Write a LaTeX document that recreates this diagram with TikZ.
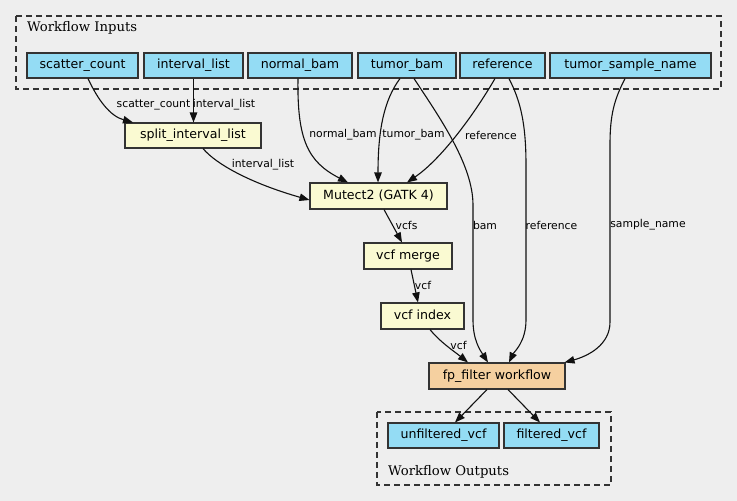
\documentclass[tikz,border=0pt]{standalone}
\usepackage{fontspec}
\usetikzlibrary{arrows.meta}
\newfontfamily\djsans{DejaVu Sans}
\newfontfamily\djserif{DejaVu Serif}
\definecolor{bgc}{HTML}{EEEEEE}
\definecolor{inblue}{HTML}{94DCF4}
\definecolor{stepyel}{HTML}{FAFAD2}
\definecolor{wforange}{HTML}{F5D0A0}
\definecolor{edgec}{HTML}{111111}
\definecolor{clus}{HTML}{333333}
\tikzset{
  box/.style={draw=clus, line width=1.1pt, rectangle, inner sep=0pt,
    minimum height=25pt, text height=9.3pt, text depth=2.7pt,
    font=\djsans\fontsize{12.6}{14}\selectfont, text=black},
  inbox/.style={box, fill=inblue},
  stepbox/.style={box, fill=stepyel},
  wfbox/.style={box, fill=wforange},
  cluster/.style={draw=clus, line width=1.1pt, dash pattern=on 6pt off 4pt},
  clab/.style={font=\djserif\fontsize{13.2}{15}\selectfont, text=black, anchor=west, inner sep=0pt},
  elab/.style={font=\djsans\fontsize{10.8}{12}\selectfont, text=black, inner sep=0pt},
  edge/.style={draw=edgec, line width=1.1pt, -{Triangle[length=10pt,width=7.5pt]}}
}
\begin{document}
\begin{tikzpicture}[x=1pt,y=-1pt]
\useasboundingbox (0,0) rectangle (737,501);
\fill[bgc] (0,0) rectangle (737,501);
% clusters
\draw[cluster] (16,16) rectangle (721,89);
\node[clab] (inlab) at (27,27.5) {Workflow Inputs};
\draw[cluster] (377,412) rectangle (611,485);
\node[clab] (outlab) at (388,471.5) {Workflow Outputs};
% input nodes
\node[inbox, minimum width=111pt] (sc) at (82.5,65.5) {scatter\_count};
\node[inbox, minimum width=99pt] (il) at (193.5,65.5) {interval\_list};
\node[inbox, minimum width=104pt] (nb) at (300,65.5) {normal\_bam};
\node[inbox, minimum width=98pt] (tb) at (407,65.5) {tumor\_bam};
\node[inbox, minimum width=85pt] (ref) at (502.5,65.5) {reference};
\node[inbox, minimum width=161pt] (tsn) at (630.5,65.5) {tumor\_sample\_name};
% steps
\node[stepbox, minimum width=136pt] (split) at (193,135.5) {split\_interval\_list};
\node[stepbox, minimum width=137pt, minimum height=26pt] (mut) at (378.5,196) {Mutect2 (GATK 4)};
\node[stepbox, minimum width=88pt, minimum height=26pt] (merge) at (408,256) {vcf merge};
\node[stepbox, minimum width=83pt, minimum height=26pt] (index) at (422.5,316) {vcf index};
\node[wfbox, minimum width=136pt, minimum height=26pt] (fp) at (497,376) {fp\_filter workflow};
% outputs
\node[inbox, minimum width=111pt] (unf) at (443.5,435.5) {unfiltered\_vcf};
\node[inbox, minimum width=95pt] (filt) at (551.5,435.5) {filtered\_vcf};
% edges
\draw[edge] ([xshift=5.5pt]sc.south) .. controls (98,100) and (110,116) .. ([xshift=-60pt]split.north);
\draw[edge] (il.south) -- (il.south |- split.north);
\draw[edge] ([xshift=-2pt]nb.south) .. controls (297,140) and (308,162) .. ([xshift=-30.5pt]mut.north);
\draw[edge] ([xshift=-7pt]tb.south) .. controls (384,100) and (378,130) .. ([xshift=-0.5pt]mut.north);
\draw[edge] ([xshift=-7.5pt]ref.south) .. controls (472,118) and (440,160) .. ([xshift=28.5pt]mut.north);
\draw[edge] ([xshift=7pt]tb.south) .. controls (440,118) and (473,165) .. (473,205) -- (473,320) .. controls (473,340) and (480,350) .. ([xshift=-9pt]fp.north);
\draw[edge] ([xshift=6.5pt]ref.south) .. controls (520,100) and (526,122) .. (526,165) -- (526,320) .. controls (526,342) and (514,352) .. ([xshift=12pt]fp.north);
\draw[edge] ([xshift=-5.5pt]tsn.south) .. controls (614,100) and (610,115) .. (610,145) -- (610,322) .. controls (610,345) and (588,356) .. ([xshift=-1pt]fp.north east);
\draw[edge] ([xshift=10pt]split.south) .. controls (216,164) and (250,183) .. ([yshift=-4pt]mut.west);
\draw[edge] ([xshift=5.5pt]mut.south) -- ([xshift=-6pt]merge.north);
\draw[edge] ([xshift=3pt]merge.south) -- ([xshift=-4.5pt]index.north);
\draw[edge] ([xshift=7.5pt]index.south) .. controls (440,342) and (455,352) .. ([xshift=-29pt]fp.north);
\draw[edge] ([xshift=-10pt]fp.south) -- ([xshift=11.5pt]unf.north);
\draw[edge] ([xshift=11pt]fp.south) -- ([xshift=-11.5pt]filt.north);
% edge labels
\node[elab] (l1) at (153.5,105) {scatter\_count};
\node[elab] (l2) at (224,105) {interval\_list};
\node[elab] (l3) at (343,135) {normal\_bam};
\node[elab] (l4) at (413.5,135) {tumor\_bam};
\node[elab] (l5) at (491,135) {reference};
\node[elab] (l6) at (263,165) {interval\_list};
\node[elab] (l7) at (406.5,225) {vcfs};
\node[elab] (l8) at (423,285) {vcf};
\node[elab] (l9) at (458.5,345) {vcf};
\node[elab] (l10) at (485,225) {bam};
\node[elab] (l11) at (551.5,225) {reference};
\node[elab] (l12) at (648,225) {sample\_name};
\end{tikzpicture}
\end{document}
